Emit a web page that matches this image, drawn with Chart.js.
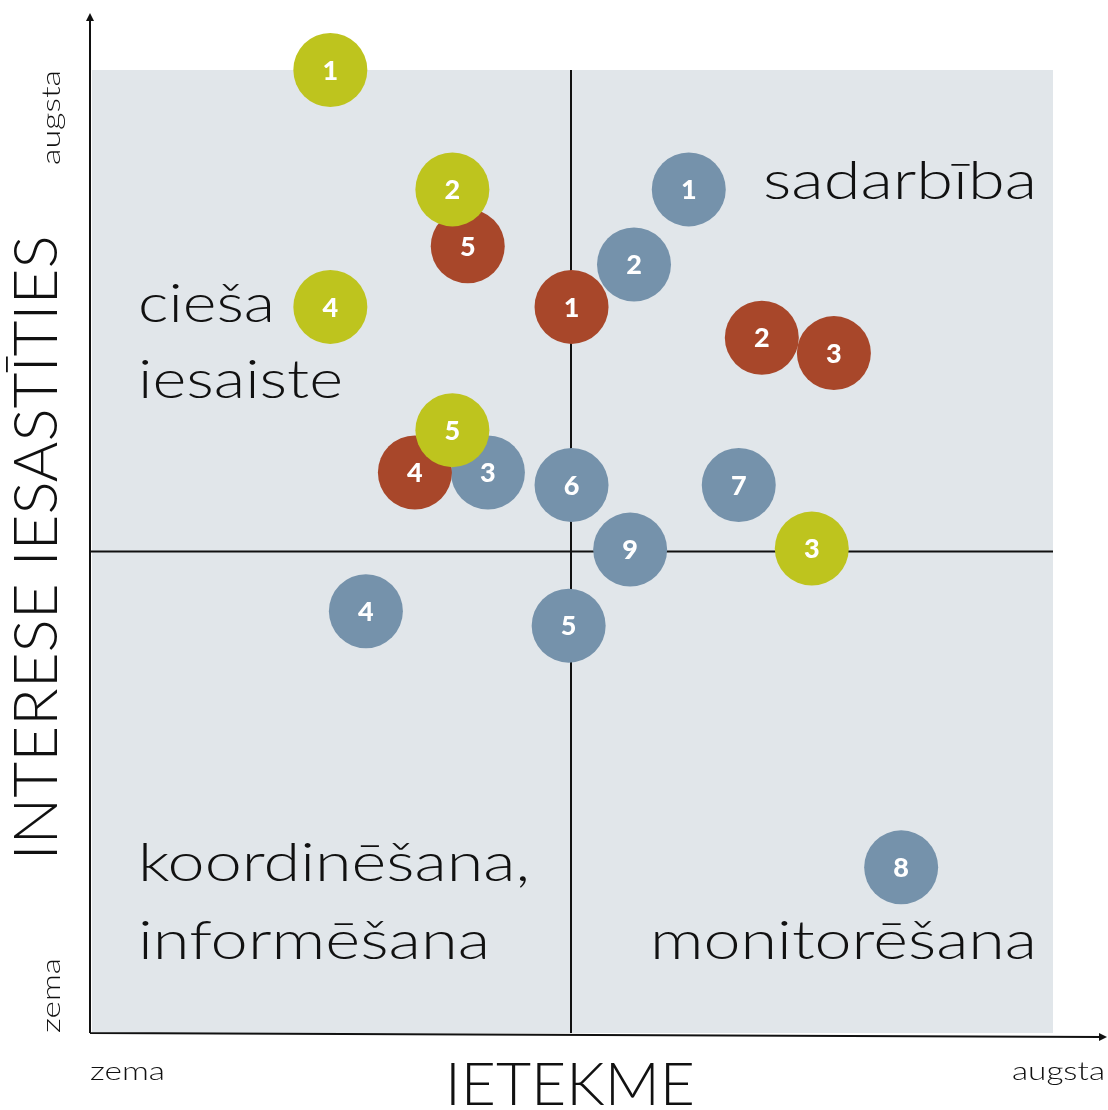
<!DOCTYPE html>
<html>
<head>
<meta charset="utf-8">
<script src="https://cdn.jsdelivr.net/npm/chart.js@4"></script>
<style>
  html, body { margin: 0; padding: 0; background: #fff; }
  #wrap { width: 1108px; height: 1110px; position: relative; }
</style>
</head>
<body>
<div id="wrap"><canvas id="chart"></canvas></div>
<script>
// ietekme (x) / interese (y), skala 0..10, viduslīnijas pie 5
const greenLabels = ['1', '2', '4', '5', '3'];
const greenX = [2.48, 3.75, 2.48, 3.75, 7.49];
const greenY = [10.0, 8.76, 7.54, 6.26, 5.03];

const redLabels = ['5', '1', '2', '3', '4'];
const redX = [3.91, 4.99, 6.97, 7.72, 3.36];
const redY = [8.17, 7.54, 7.22, 7.06, 5.82];

const blueLabels = ['1', '2', '3', '6', '7', '9', '4', '5', '8'];
const blueX = [6.21, 5.64, 4.12, 4.99, 6.73, 5.60, 2.85, 4.96, 8.42];
const blueY = [8.76, 7.98, 5.82, 5.69, 5.69, 5.02, 4.38, 4.23, 1.72];

// teksts: [rinda, x, y, izlīdzinājums, platums]
const quadrantText = [
  ['sadarbība', 1037, 182, 'right', 274],
  ['cieša', 138, 305, 'left', 137],
  ['iesaiste', 138, 381, 'left', 205],
  ['koordinēšana,', 138, 864, 'left', 392],
  ['informēšana', 138, 942, 'left', 352],
  ['monitorēšana', 1037, 942, 'right', 387]
];

const FONT = '"Lato", "Open Sans", sans-serif';
const colors = { green: '#bec41e', red: '#a8472a', blue: '#7592ab', bg: '#e1e6ea' };

function pts(xs, ys) { return xs.map((x, i) => ({ x, y: ys[i] })); }

function ds(label, xs, ys, color, labels) {
  return {
    label,
    data: pts(xs, ys),
    numbers: labels,
    backgroundColor: color,
    borderColor: color,
    borderWidth: 0,
    pointRadius: 37,
    pointHoverRadius: 37,
    clip: false
  };
}

// zīmē tekstu, izstieptu līdz vajadzīgajam platumam
function fillFit(ctx, text, x, y, align, width) {
  const w = ctx.measureText(text).width;
  const k = width / w;
  ctx.save();
  ctx.translate(x, y);
  ctx.scale(k, 1);
  ctx.textAlign = align;
  ctx.fillText(text, 0, 0);
  ctx.restore();
}

const backdrop = {
  id: 'backdrop',
  beforeDatasetsDraw(chart) {
    const { ctx, chartArea: a, scales: { x, y } } = chart;
    ctx.save();
    ctx.fillStyle = colors.bg;
    ctx.fillRect(a.left, a.top, a.right - a.left, a.bottom - a.top);
    ctx.strokeStyle = '#111';
    ctx.lineWidth = 2;
    const mx = x.getPixelForValue(5) - 1.5, my = y.getPixelForValue(5);
    ctx.beginPath();
    ctx.moveTo(mx, a.top); ctx.lineTo(mx, a.bottom);
    ctx.moveTo(a.left - 2, my); ctx.lineTo(a.right, my);
    ctx.stroke();
    // asis ar bultām
    const ox = a.left - 2, oy = a.bottom;
    ctx.beginPath();
    ctx.moveTo(ox, oy); ctx.lineTo(ox, 18);
    ctx.moveTo(ox, oy); ctx.lineTo(1102, oy + 4);
    ctx.stroke();
    ctx.fillStyle = '#111';
    ctx.beginPath();
    ctx.moveTo(ox, 13); ctx.lineTo(ox - 4, 21); ctx.lineTo(ox + 4, 21); ctx.closePath();
    ctx.fill();
    ctx.beginPath();
    ctx.moveTo(1107, oy + 4); ctx.lineTo(1099, oy); ctx.lineTo(1099, oy + 8); ctx.closePath();
    ctx.fill();

    // kvadrantu nosaukumi
    ctx.fillStyle = '#111';
    ctx.font = '300 54px ' + FONT;
    ctx.textBaseline = 'middle';
    quadrantText.forEach(q => fillFit(ctx, q[0], q[1], q[2], q[3], q[4]));

    // asu nosaukumi
    ctx.font = '300 26px ' + FONT;
    fillFit(ctx, 'zema', 90, 1072, 'left', 75);
    fillFit(ctx, 'augsta', 1105, 1072, 'right', 93);
    ctx.font = '300 60px ' + FONT;
    fillFit(ctx, 'IETEKME', 570, 1086, 'center', 250);

    ctx.save();
    ctx.translate(37, 548);
    ctx.rotate(-Math.PI / 2);
    ctx.font = '300 62px ' + FONT;
    fillFit(ctx, 'INTERESE IESASTĪTIES', 0, 0, 'center', 625);
    ctx.restore();

    ctx.font = '300 26px ' + FONT;
    ctx.save();
    ctx.translate(52, 70);
    ctx.rotate(-Math.PI / 2);
    fillFit(ctx, 'augsta', 0, 0, 'right', 95);
    ctx.restore();
    ctx.save();
    ctx.translate(52, 1033);
    ctx.rotate(-Math.PI / 2);
    fillFit(ctx, 'zema', 0, 0, 'left', 75);
    ctx.restore();
    ctx.restore();
  }
};

const numbers = {
  id: 'numbers',
  afterDatasetDraw(chart, args) {
    const { ctx } = chart;
    const dset = chart.data.datasets[args.index];
    ctx.save();
    ctx.fillStyle = '#fff';
    ctx.font = '900 27px "Lato", "Open Sans", sans-serif';
    ctx.textAlign = 'center';
    ctx.textBaseline = 'middle';
    args.meta.data.forEach((el, i) => ctx.fillText(dset.numbers[i], el.x, el.y + 1));
    ctx.restore();
  }
};

new Chart(document.getElementById('chart'), {
  type: 'scatter',
  data: {
    datasets: [
      ds('green', greenX, greenY, colors.green, greenLabels),
      ds('red', redX, redY, colors.red, redLabels),
      ds('blue', blueX, blueY, colors.blue, blueLabels)
    ]
  },
  options: {
    responsive: true,
    maintainAspectRatio: false,
    animation: false,
    events: [],
    layout: { padding: { left: 92, top: 70, right: 55, bottom: 77 } },
    plugins: { legend: { display: false }, tooltip: { enabled: false } },
    scales: {
      x: { type: 'linear', min: 0, max: 10, display: false },
      y: { type: 'linear', min: 0, max: 10, display: false }
    }
  },
  plugins: [backdrop, numbers]
});
</script>
</body>
</html>
